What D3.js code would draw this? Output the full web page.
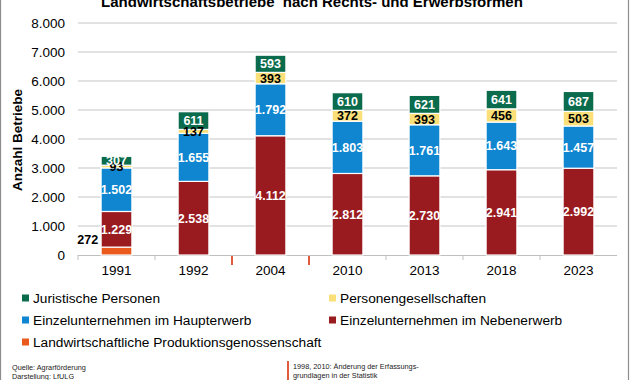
<!DOCTYPE html>
<html><head><meta charset="utf-8">
<script src="https://cdn.jsdelivr.net/npm/d3@7"></script>
<style>body{margin:0;background:#fff}svg{display:block;font-family:"Liberation Sans",Arial,sans-serif}</style>
</head><body><svg id="c" width="630" height="380"></svg>
<script>
const years = ["1991","1992","2004","2010","2013","2018","2023"];
const lpg = [272,0,0,0,0,0,0];
const neben = [1229,2538,4112,2812,2730,2941,2992];
const haupt = [1502,1655,1792,1803,1761,1643,1457];
const personen = [93,137,393,372,393,456,503];
const juristisch = [307,611,593,610,621,641,687];
const yTicks = [0,1000,2000,3000,4000,5000,6000,7000,8000];
const seriesNames = ["Landwirtschaftliche Produktionsgenossenschaft","Einzelunternehmen im Nebenerwerb","Einzelunternehmen im Haupterwerb","Personengesellschaften","Juristische Personen"];
const seriesColors = ["#e95a1c","#9a1b1f","#0f86cf","#fbe07a","#0b6b4d"];
const labelColors = ["#000","#fff","#fff","#000","#fff"];
const legendOrder = [4,3,2,1,0];
const markerYears = ["1998","2010"];

const svg = d3.select("#c");
const fmt = d3.format(",.0f");
const de = v => fmt(v).replace(/,/g,".");

svg.append("rect").attr("x",0.5).attr("y",-2).attr("width",628).attr("height",384)
  .attr("fill","none").attr("stroke","#8c8c8c").attr("stroke-width",1.2);

const x = d3.scaleBand().domain(years).range([78,617]).paddingInner(0.6).paddingOuter(0.3);
const y = d3.scaleLinear().domain([0,8000]).range([255,23]);

svg.append("text").attr("x",312).attr("y",7).attr("text-anchor","middle")
  .attr("font-weight","bold").attr("font-size",15).style("white-space","pre")
  .text("Landwirtschaftsbetriebe  nach Rechts- und Erwerbsformen");

// grid
svg.append("g").selectAll("line").data(yTicks.filter(d=>d>0)).join("line")
  .attr("x1",78).attr("x2",617).attr("y1",d=>y(d)).attr("y2",d=>y(d))
  .attr("stroke","#d9d9d9").attr("stroke-width",1.3);

const ya = svg.append("g").attr("transform","translate(78,0)")
  .call(d3.axisLeft(y).tickValues(yTicks).tickFormat(de).tickSize(0).tickPadding(13));
ya.select(".domain").remove();
ya.selectAll("text").attr("font-size",13.5).attr("fill","#000").attr("font-family","Liberation Sans, Arial, sans-serif");

svg.append("text").attr("transform","translate(22,140) rotate(-90)").attr("text-anchor","middle")
  .attr("font-weight","bold").attr("font-size",13.5).text("Anzahl Betriebe");

// baseline + ticks
svg.append("line").attr("x1",78).attr("x2",617).attr("y1",255.5).attr("y2",255.5).attr("stroke","#bfbfbf").attr("stroke-width",1.2);
const bounds = d3.range(years.length+1).map(i=>78+i*(539/years.length));
svg.append("g").selectAll("line").data(bounds.slice(0,-1)).join("line")
  .attr("x1",d=>d).attr("x2",d=>d).attr("y1",255).attr("y2",260).attr("stroke","#bfbfbf");

const xa = svg.append("g").attr("transform","translate(0,255)")
  .call(d3.axisBottom(x).tickSize(0).tickPadding(10));
xa.select(".domain").remove();
xa.selectAll("text").attr("font-size",13.5).attr("fill","#000").attr("font-family","Liberation Sans, Arial, sans-serif");

// marker lines between 1992/2004 and 2004/2010
[2,3].forEach(i=>{
  svg.append("line").attr("x1",bounds[i]).attr("x2",bounds[i]).attr("y1",256).attr("y2",265)
    .attr("stroke","#e05a3c").attr("stroke-width",2);
});

const data = years.map((yr,i)=>({year:yr, s0:lpg[i], s1:neben[i], s2:haupt[i], s3:personen[i], s4:juristisch[i]}));
const stack = d3.stack().keys(["s0","s1","s2","s3","s4"])(data);

stack.forEach((layer,k)=>{
  const g = svg.append("g");
  g.selectAll("rect").data(layer.filter(d=>d[1]-d[0]>0)).join("rect")
    .attr("x",d=>x(d.data.year)).attr("width",x.bandwidth())
    .attr("y",d=>y(d[1])).attr("height",d=>y(d[0])-y(d[1]))
    .attr("fill",seriesColors[k]).attr("stroke","#fff").attr("stroke-width",1.2);
});
stack.forEach((layer,k)=>{
  const g = svg.append("g");
  g.selectAll("text").data(layer.filter(d=>d[1]-d[0]>0)).join("text")
    .attr("x",d=> k===0 ? x(d.data.year)-3 : x(d.data.year)+x.bandwidth()/2)
    .attr("y",d=> k===0 ? y(d[1])-3 : (y(d[0])+y(d[1]))/2 + 4.5)
    .attr("text-anchor",k===0?"end":"middle")
    .attr("font-weight","bold").attr("font-size",12.5)
    .attr("fill",k===0?"#000":labelColors[k])
    .text(d=>de(d[1]-d[0]));
});

// legend
const legPos = [[22,298],[329,298],[22,320],[329,320],[22,342]];
legendOrder.forEach((si,j)=>{
  const [lx,ly] = legPos[j];
  svg.append("rect").attr("x",lx).attr("y",ly-3.5).attr("width",7).attr("height",7).attr("fill",seriesColors[si]);
  svg.append("text").attr("x",lx+11).attr("y",ly+5).attr("font-size",13.7).text(seriesNames[si]);
});

// footer
const fs = 7.3;
svg.append("text").attr("x",12).attr("y",370).attr("font-size",fs).attr("fill","#222").text("Quelle: Agrarförderung");
svg.append("text").attr("x",12).attr("y",378.5).attr("font-size",fs).attr("fill","#222").text("Darstellung: LfULG");
svg.append("line").attr("x1",288).attr("x2",288).attr("y1",361).attr("y2",380).attr("stroke","#e05a3c").attr("stroke-width",2);
svg.append("text").attr("x",293).attr("y",369).attr("font-size",fs).attr("fill","#222").text(markerYears.join(", ")+": Änderung der Erfassungs-");
svg.append("text").attr("x",293).attr("y",377.5).attr("font-size",fs).attr("fill","#222").text("grundlagen in der Statistik");
</script></body></html>
